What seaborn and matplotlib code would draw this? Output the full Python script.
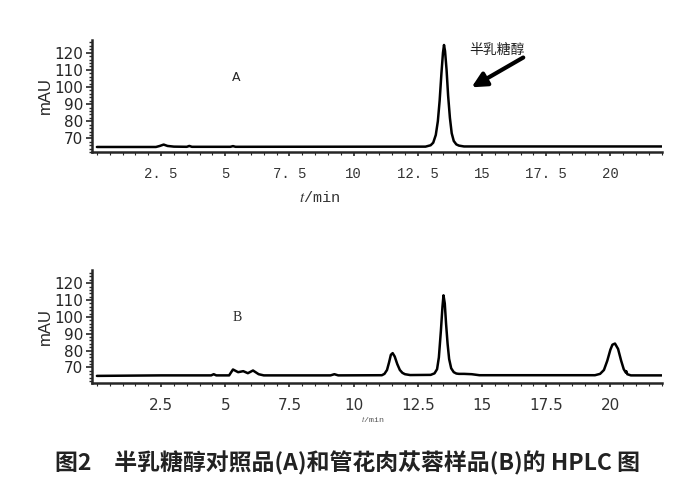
import matplotlib
matplotlib.use("Agg")
import matplotlib.pyplot as plt
import seaborn as sns
import pandas as pd

# trace A: galactitol reference (time in min, signal in mAU)
time_a = [0.0, 2.3, 2.45, 2.6, 2.75, 3.0, 3.5, 3.6, 3.7, 5.2, 5.3, 5.4, 12.8, 13.0, 13.1,
          13.2, 13.28, 13.35, 13.42, 13.48, 13.52, 13.56, 13.62, 13.68, 13.75, 13.82, 13.9,
          14.0, 14.1, 14.3, 22.0]
mau_a = [65.0, 65.0, 65.6, 66.4, 65.6, 65.2, 65.1, 65.6, 65.1, 65.1, 65.5, 65.1, 65.2, 66.0, 67.5,
         72.0, 80.0, 92.0, 108.0, 120.0, 124.5, 121.0, 110.0, 95.0, 82.0, 73.0, 68.5,
         66.5, 65.8, 65.3, 65.3]

# trace B: sample
time_b = [0.0, 2.5, 4.45, 4.55, 4.65, 5.15, 5.3, 5.5, 5.7, 5.88, 6.08, 6.3, 6.5, 9.1, 9.25,
          9.4, 11.1, 11.2, 11.3, 11.38, 11.45, 11.52, 11.6, 11.7, 11.8, 11.9, 12.0, 12.2,
          13.0, 13.15, 13.25, 13.32, 13.4, 13.46, 13.5, 13.55, 13.6, 13.66, 13.72, 13.8, 13.9,
          14.0, 14.1, 14.3, 14.6, 14.9, 19.4, 19.6, 19.75, 19.88, 20.0, 20.08, 20.18, 20.3,
          20.42, 20.52, 20.6, 20.62, 20.66, 20.8, 22.0]
mau_b = [65.0, 65.3, 65.3, 66.0, 65.3, 65.3, 68.8, 67.2, 67.8, 66.6, 68.2, 66.0, 65.3, 65.3, 66.0,
         65.3, 65.4, 66.2, 68.5, 73.0, 77.5, 78.5, 76.5, 72.0, 68.5, 66.8, 66.0, 65.5,
         65.6, 66.5, 69.0, 76.0, 92.0, 106.0, 112.8, 108.0, 96.0, 84.0, 75.0, 69.5, 67.2,
         66.4, 66.2, 66.2, 66.0, 65.4, 65.4, 66.2, 68.5, 74.0, 80.5, 83.5, 84.2, 81.0,
         74.0, 69.0, 67.0, 67.8, 66.0, 65.3, 65.3]

x_ticks = [2.5, 5, 7.5, 10, 12.5, 15, 17.5, 20]
x_labels_a = ["2. 5", "5", "7. 5", "10", "12. 5", "15", "17. 5", "20"]
x_labels_b = ["2.5", "5", "7.5", "10", "12.5", "15", "17.5", "20"]
y_ticks = [70, 80, 90, 100, 110, 120]

sns.set_style("ticks")
plt.rcParams["font.family"] = ["DejaVu Sans", "Noto Sans CJK SC"]
plt.rcParams["mathtext.fontset"] = "stix"

fig = plt.figure(figsize=(6.9, 4.86), dpi=100)
ax_a = fig.add_axes([0.133, 0.687, 0.826, 0.231])
ax_b = fig.add_axes([0.133, 0.212, 0.826, 0.232])

df_a = pd.DataFrame({"t": time_a, "mAU": mau_a})
df_b = pd.DataFrame({"t": time_b, "mAU": mau_b})
sns.lineplot(data=df_a, x="t", y="mAU", ax=ax_a, color="black", lw=1.8)
sns.lineplot(data=df_b, x="t", y="mAU", ax=ax_b, color="black", lw=1.8)

for ax, ylim, labels, fam, fs in [(ax_a, (62.4, 127.5), x_labels_a, "Liberation Mono", 10),
                                  (ax_b, (60.8, 127.7), x_labels_b, "DejaVu Sans", 11)]:
    ax.set_xlim(-0.2, 22)
    ax.set_ylim(*ylim)
    sns.despine(ax=ax)
    ax.spines["left"].set_linewidth(1.8)
    ax.spines["bottom"].set_linewidth(1.8)
    ax.set_yticks(y_ticks)
    ax.set_yticks(range(62, 128, 2), minor=True)
    ax.set_xticks(x_ticks)
    ax.set_xticks([v * 0.5 for v in range(0, 45)], minor=True)
    ax.set_xticklabels(labels, fontfamily=fam, fontsize=fs, color="#333333")
    ax.tick_params(axis="y", which="major", length=4, width=1.2, labelsize=11, pad=2)
    ax.tick_params(axis="y", which="minor", length=2.5, width=1.0)
    ax.tick_params(axis="x", which="major", length=3, width=1.2, pad=8)
    ax.tick_params(axis="x", which="minor", length=2, width=0.8)
    ax.set_ylabel("mAU", fontsize=12, labelpad=1, fontfamily="Liberation Sans")
    ax.set_xlabel("")

ax_a.text(5.43, 105.5, "A", fontsize=9, ha="center", va="center")
ax_b.text(5.46, 99.8, "B", fontsize=10, ha="center", va="center", fontfamily="Liberation Serif")

ax_a.text(15.6, 121.7, "半乳糖醇", fontsize=10, ha="center", va="center",
          fontfamily=["Noto Sans CJK SC"], color="#222222")
ax_a.annotate("", xy=(14.5, 99.0), xytext=(16.7, 118.0),
              arrowprops=dict(arrowstyle="-|>", lw=3, color="black", mutation_scale=22))

ax_a.set_xlabel(r"$t$/min", fontsize=11, fontfamily="Liberation Mono", color="#333333")
ax_a.xaxis.set_label_coords(0.40, -0.34)
fig.text(0.54, 0.138, r"$t$/min", fontsize=6, fontfamily="Liberation Mono",
         color="#555555", ha="center", va="center")

fig.text(0.503, 0.047, "图2　半乳糖醇对照品(A)和管花肉苁蓉样品(B)的 HPLC 图",
         fontsize=16.5, fontweight="bold", ha="center", va="center",
         fontfamily=["Noto Sans CJK SC", "Liberation Serif"], color="#222222")

fig.savefig("out.png", dpi=100)
